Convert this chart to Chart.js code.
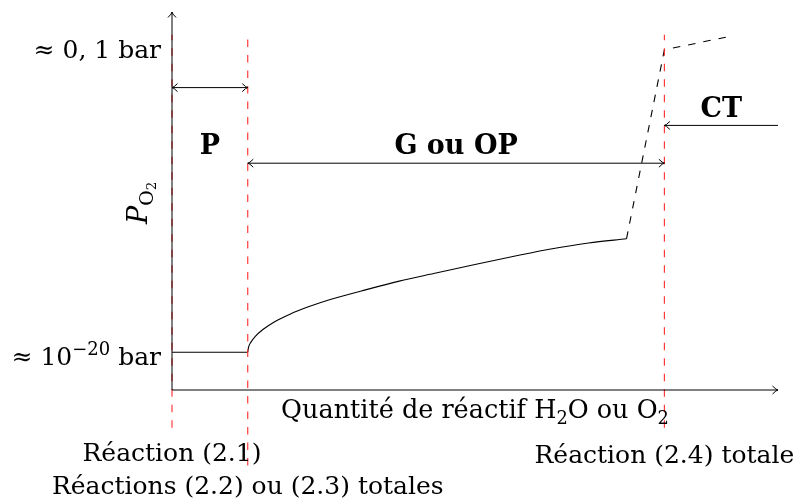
<!DOCTYPE html>
<html>
<head>
<meta charset="utf-8">
<script src="https://cdn.jsdelivr.net/npm/chart.js@4"></script>
<style>
  html, body { margin: 0; padding: 0; background: #fff; }
  canvas { display: block; }
</style>
</head>
<body>
<canvas id="c" width="798" height="502"></canvas>
<script>
// ---------- data ----------
const lowLevel = [{x: 0, y: 1}, {x: 2, y: 1}];
const growthCurve = [
  {x: 2.00, y: 1.00}, {x: 2.02, y: 1.13}, {x: 2.08, y: 1.26}, {x: 2.20, y: 1.42},
  {x: 2.40, y: 1.60}, {x: 2.70, y: 1.80}, {x: 3.10, y: 2.00}, {x: 3.60, y: 2.20},
  {x: 4.20, y: 2.40}, {x: 5.00, y: 2.62}, {x: 6.00, y: 2.88}, {x: 7.00, y: 3.10},
  {x: 8.00, y: 3.32}, {x: 9.00, y: 3.53}, {x: 10.00, y: 3.73}, {x: 11.00, y: 3.89},
  {x: 12.00, y: 4.00}
];
const transition = [{x: 12, y: 4}, {x: 13, y: 9}, {x: 14.8, y: 9.37}];
const reactionX = [0, 2, 13];
const reactionBottom = [-1, -2, -1];
const reactionTop = 9.4;
const reactionLabels = ['Réaction (2.1)', 'Réactions (2.2) ou (2.3) totales', 'Réaction (2.4) totale'];
const yTickValues = [1, 9];
const yTickLabels = [
  [{t: '≈ 10'}, {t: '−20', sup: true}, {t: ' bar'}],
  [{t: '≈ 0, 1 bar'}]
];
const regionNames = ['P', 'G ou OP', 'CT'];
const regionFrom = [0, 2, 16];
const regionTo = [2, 13, 13];
const regionArrowY = [8, 6, 7];
const xTitle = [{t: 'Quantité de réactif H'}, {t: '2', sub: true}, {t: 'O ou O'}, {t: '2', sub: true}];
const yTitle = [{t: 'P', italic: true}, {t: 'O', sub: true}, {t: '2', subsub: true}];
const xAxisMax = 16, yAxisMax = 10;

// ---------- drawing helpers ----------
const FAMILY = '"DejaVu Serif", serif';
function segFont(s, base, bold) {
  let size = base, dy = 0;
  if (s.sup) { size = base * 0.72; dy = -base * 0.42; }
  if (s.sub) { size = base * 0.7; dy = base * 0.22; }
  if (s.subsub) { size = base * 0.5; dy = base * 0.34; }
  const f = (s.italic ? 'italic ' : '') + (bold ? 'bold ' : '') + size + 'px ' + FAMILY;
  return {f, dy};
}
function richWidth(ctx, segs, base, bold) {
  let w = 0;
  for (const s of segs) { ctx.font = segFont(s, base, bold).f; w += ctx.measureText(s.t).width; }
  return w;
}
function drawRich(ctx, segs, x, y, align, base, bold) {
  const w = richWidth(ctx, segs, base, bold);
  let cx = align === 'center' ? x - w / 2 : align === 'right' ? x - w : x;
  ctx.textAlign = 'left';
  ctx.textBaseline = 'alphabetic';
  for (const s of segs) {
    const sf = segFont(s, base, bold);
    ctx.font = sf.f;
    ctx.fillText(s.t, cx, y + sf.dy);
    cx += ctx.measureText(s.t).width;
  }
}
function arrowHead(ctx, x, y, dx, dy) {
  const len = Math.hypot(dx, dy); const ux = dx / len, uy = dy / len;
  const L = 5.5, W = 4;
  ctx.beginPath();
  ctx.moveTo(x - ux * L - uy * W, y - uy * L + ux * W);
  ctx.quadraticCurveTo(x - ux * 1.5, y - uy * 1.5, x, y);
  ctx.quadraticCurveTo(x - ux * 1.5, y - uy * 1.5, x - ux * L + uy * W, y - uy * L - ux * W);
  ctx.stroke();
}
function arrowLine(ctx, x1, y1, x2, y2, startHead, endHead) {
  ctx.beginPath(); ctx.moveTo(x1, y1); ctx.lineTo(x2, y2); ctx.stroke();
  if (endHead) arrowHead(ctx, x2, y2, x2 - x1, y2 - y1);
  if (startHead) arrowHead(ctx, x1, y1, x1 - x2, y1 - y2);
}

const annotations = {
  id: 'annotations',
  afterDatasetsDraw(chart) {
    const ctx = chart.ctx, xs = chart.scales.x, ys = chart.scales.y;
    const px = v => xs.getPixelForValue(v), py = v => ys.getPixelForValue(v);
    ctx.save();
    ctx.strokeStyle = '#000'; ctx.fillStyle = '#000'; ctx.lineWidth = 1;
    // axes
    arrowLine(ctx, px(0), py(0), px(xAxisMax), py(0), false, true);
    arrowLine(ctx, px(0), py(0), px(0), py(yAxisMax), false, true);
    // region arrows
    for (let i = 0; i < regionNames.length; i++) {
      const both = i < 2;
      arrowLine(ctx, px(regionFrom[i]), py(regionArrowY[i]), px(regionTo[i]), py(regionArrowY[i]), both, true);
    }
    // region labels
    const lblX = [1, 7.5, 14.5], lblY = [6.5, 6.5, 7.5], lblShift = [9.7, 9.7, 10.2];
    for (let i = 0; i < regionNames.length; i++) {
      drawRich(ctx, [{t: regionNames[i]}], px(lblX[i]), py(lblY[i]) + lblShift[i], 'center', 27, true);
    }
    // y tick labels
    const tickShift = [13, 8.5];
    for (let i = 0; i < yTickValues.length; i++) {
      drawRich(ctx, yTickLabels[i], px(0) - 11, py(yTickValues[i]) + tickShift[i], 'right', 25, false);
    }
    // x axis title
    drawRich(ctx, xTitle, px(8), py(0) + 28, 'center', 25.5, false);
    // reaction labels
    const rShift = [33, 28.5, 35];
    for (let i = 0; i < reactionX.length; i++) {
      drawRich(ctx, [{t: reactionLabels[i]}], px(reactionX[i]), py(reactionBottom[i]) + rShift[i], 'center', 25, false);
    }
    // y axis title (rotated)
    ctx.save();
    ctx.translate(147, 224);
    ctx.rotate(-Math.PI / 2);
    drawRich(ctx, yTitle, 0, 0, 'left', 27, false);
    ctx.restore();
    ctx.restore();
  }
};

const redDash = [7.5, 8];
const datasets = [];
for (let i = 0; i < reactionX.length; i++) {
  datasets.push({
    data: [{x: reactionX[i], y: reactionBottom[i]}, {x: reactionX[i], y: reactionTop}],
    borderColor: '#ff2a2a', borderWidth: 1.1, borderDash: redDash, pointRadius: 0, showLine: true, clip: false
  });
}
datasets.push({data: lowLevel, borderColor: '#000', borderWidth: 1.1, pointRadius: 0, showLine: true, clip: false});
datasets.push({data: growthCurve, borderColor: '#000', borderWidth: 1.1, pointRadius: 0, showLine: true,
  cubicInterpolationMode: 'monotone', clip: false});
datasets.push({data: transition, borderColor: '#000', borderWidth: 1.1, borderDash: [7.5, 8], pointRadius: 0,
  showLine: true, clip: false});

new Chart(document.getElementById('c'), {
  type: 'scatter',
  data: {datasets},
  options: {
    responsive: false,
    animation: false,
    layout: {padding: {left: 172, right: 20, top: 12, bottom: 112}},
    plugins: {legend: {display: false}, tooltip: {enabled: false}},
    scales: {
      x: {type: 'linear', min: 0, max: xAxisMax, display: false},
      y: {type: 'linear', min: 0, max: yAxisMax, display: false}
    }
  },
  plugins: [annotations]
});
</script>
</body>
</html>
